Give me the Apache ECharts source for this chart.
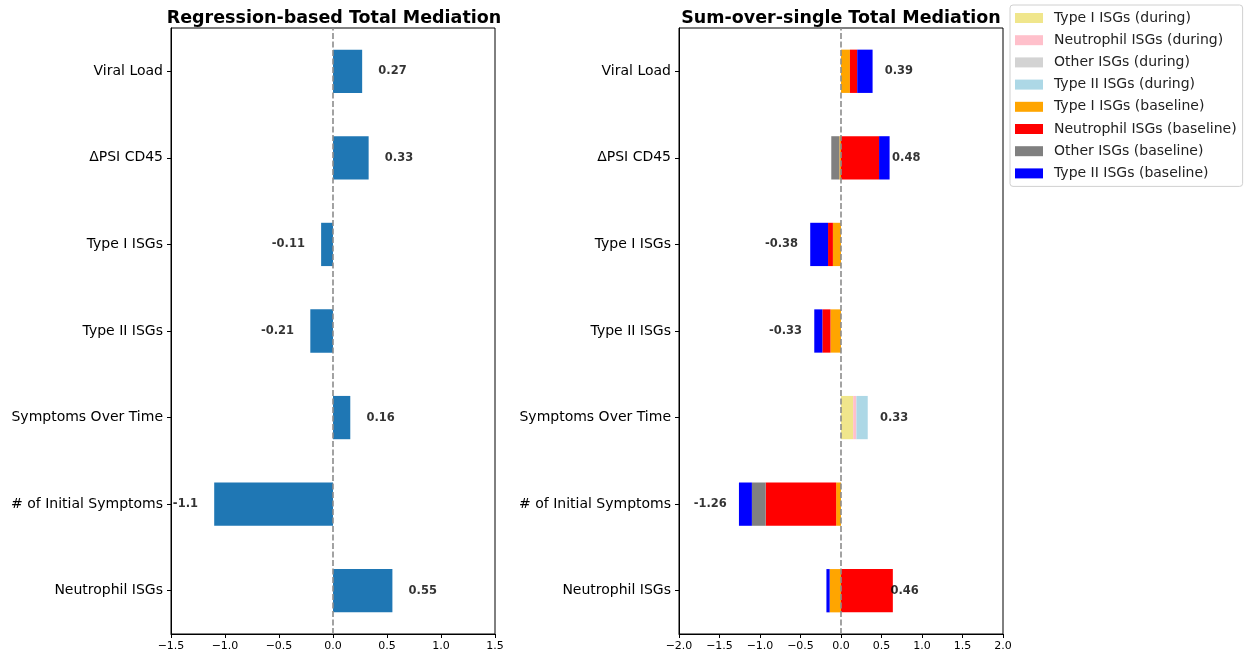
<!DOCTYPE html>
<html>
<head>
<meta charset="utf-8">
<script src="https://cdn.jsdelivr.net/npm/echarts@6/dist/echarts.min.js"></script>
<style>
html,body{margin:0;padding:0;background:#fff;}
#chart{width:1247px;height:657px;}
</style>
</head>
<body>
<div id="chart"></div>
<script>
// Categories, bottom to top
const categories = ['Neutrophil ISGs', '# of Initial Symptoms', 'Symptoms Over Time', 'Type II ISGs', 'Type I ISGs', 'ΔPSI CD45', 'Viral Load'];

// Left panel: regression-based total mediation
const regressionValues = [0.55, -1.1, 0.16, -0.21, -0.11, 0.33, 0.27];

// Right panel: sum-over-single components (same category order)
const seriesNames = ['Type I ISGs (during)', 'Neutrophil ISGs (during)', 'Other ISGs (during)', 'Type II ISGs (during)',
                     'Type I ISGs (baseline)', 'Neutrophil ISGs (baseline)', 'Other ISGs (baseline)', 'Type II ISGs (baseline)'];
const seriesColors = ['#F0E68C', '#FFC0CB', '#D3D3D3', '#ADD8E6', '#FFA500', '#FF0000', '#808080', '#0000FF'];
const typeIDuring        = [0, 0, 0.15, 0, 0, 0, 0];
const neutrophilDuring   = [0, 0, 0.04, 0, 0, 0, 0];
const otherDuring        = [0, 0, 0, 0, 0, 0, 0];
const typeIIDuring       = [0, 0, 0.14, 0, 0, 0, 0];
const typeIBaseline      = [-0.14, -0.06, 0, -0.13, -0.10, -0.02, 0.11];
const neutrophilBaseline = [0.64, -0.87, 0, -0.10, -0.06, 0.47, 0.09];
const otherBaseline      = [0, -0.17, 0, 0, 0, -0.10, 0];
const typeIIBaseline     = [-0.04, -0.16, 0, -0.10, -0.22, 0.13, 0.19];
const componentValues = [typeIDuring, neutrophilDuring, otherDuring, typeIIDuring, typeIBaseline, neutrophilBaseline, otherBaseline, typeIIBaseline];

// Axis ticks
const leftTicks = {min: -1.5, max: 1.5, interval: 0.5};
const rightTicks = {min: -2, max: 2, interval: 0.5};

const labelOffset = 0.15;
const FONT = 'DejaVu Sans';

function tickFmt(v) {
  return (v < 0 ? '\u2212' : '') + Math.abs(v).toFixed(1);
}
function fmtVal(v) {
  return String(Math.round(v * 100) / 100);
}

const totals = categories.map((c, i) => componentValues.reduce((s, arr) => s + arr[i], 0));

function labelData(vals) {
  return vals.map((v, i) => ({
    value: [v >= 0 ? v + labelOffset : v - labelOffset, i],
    label: {position: v >= 0 ? 'right' : 'left', formatter: fmtVal(v)}
  }));
}

function xAxisFor(idx, t) {
  return {
    gridIndex: idx, type: 'value', min: t.min, max: t.max, interval: t.interval,
    axisLine: {show: true, onZero: false, lineStyle: {color: '#000', width: 1}},
    axisTick: {show: true, length: 4, lineStyle: {color: '#000'}},
    splitLine: {show: false},
    axisLabel: {formatter: tickFmt, color: '#000', fontFamily: FONT, fontSize: 11, margin: 7}
  };
}
function yAxisFor(idx) {
  return {
    gridIndex: idx, type: 'category', data: categories,
    axisLine: {show: true, onZero: false, lineStyle: {color: '#000', width: 1}},
    axisTick: {show: true, alignWithLabel: true, length: 4, lineStyle: {color: '#000'}},
    axisLabel: {color: '#000', fontFamily: FONT, fontSize: 14, margin: 8, padding: [3, 0, 0, 0]},
    splitLine: {show: false}
  };
}
const zeroLine = {
  silent: true, symbol: ['none', 'none'], label: {show: false},
  lineStyle: {color: '#8c8c8c', type: [6, 2.5], width: 1.6},
  data: [{xAxis: 0}]
};
const valueLabelStyle = {show: true, distance: 0, color: '#000', fontFamily: FONT, fontSize: 11.5, fontWeight: 'bold', padding: [2, 0, 0, 0]};

const series = [];
series.push({
  type: 'bar', xAxisIndex: 0, yAxisIndex: 0, data: regressionValues, barWidth: '50%',
  itemStyle: {color: '#1f77b4'}, markLine: zeroLine, silent: true
});
series.push({
  type: 'scatter', xAxisIndex: 0, yAxisIndex: 0, symbolSize: 0, silent: true,
  data: labelData(regressionValues), label: valueLabelStyle
});
seriesNames.forEach((name, k) => {
  const s = {
    type: 'bar', name: name, stack: 'total', xAxisIndex: 1, yAxisIndex: 1,
    data: componentValues[k], barWidth: '50%', itemStyle: {color: seriesColors[k]}, silent: true
  };
  if (k === 0) s.markLine = zeroLine;
  series.push(s);
});
series.push({
  type: 'scatter', xAxisIndex: 1, yAxisIndex: 1, symbolSize: 0, silent: true,
  data: labelData(totals), label: valueLabelStyle
});

const chart = echarts.init(document.getElementById('chart'), null, {renderer: 'canvas'});
chart.setOption({
  animation: false,
  backgroundColor: '#fff',
  title: [
    {text: 'Regression-based Total Mediation', left: 329, top: 4, textAlign: 'center',
     textStyle: {fontFamily: FONT, fontSize: 17.5, fontWeight: 'bold', color: '#000'}},
    {text: 'Sum-over-single Total Mediation', left: 836, top: 4, textAlign: 'center',
     textStyle: {fontFamily: FONT, fontSize: 17.5, fontWeight: 'bold', color: '#000'}}
  ],
  legend: {
    data: seriesNames, orient: 'vertical', left: 1010, top: 5,
    itemWidth: 28, itemHeight: 10, itemGap: 8.2, icon: 'rect',
    padding: [6, 6, 6, 5], borderColor: '#d0d0d0', borderWidth: 1, borderRadius: 3,
    selectedMode: false,
    textStyle: {fontFamily: FONT, fontSize: 14, color: '#222', lineHeight: 14, padding: [0, 0, 0, 6]}
  },
  grid: [
    {left: 171, top: 28, width: 324, height: 606, show: true, borderColor: '#000', borderWidth: 1, backgroundColor: 'transparent'},
    {left: 679, top: 28, width: 324, height: 606, show: true, borderColor: '#000', borderWidth: 1, backgroundColor: 'transparent'}
  ],
  xAxis: [xAxisFor(0, leftTicks), xAxisFor(1, rightTicks)],
  yAxis: [yAxisFor(0), yAxisFor(1)],
  series: series
});
</script>
</body>
</html>
